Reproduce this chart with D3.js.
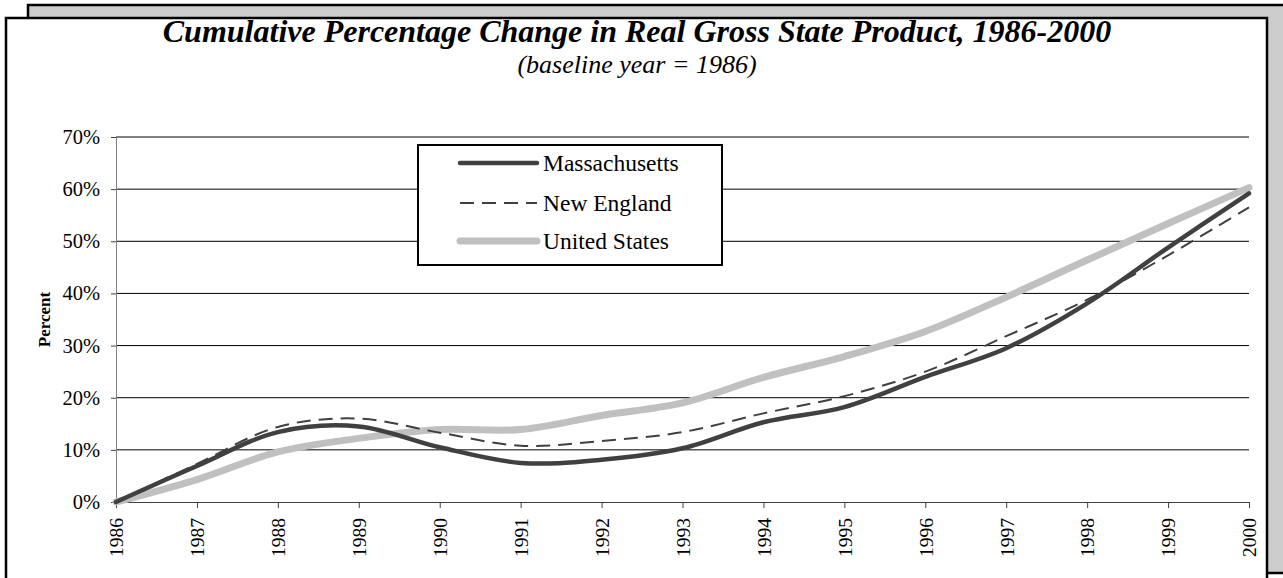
<!DOCTYPE html>
<html>
<head>
<meta charset="utf-8">
<script src="https://cdn.jsdelivr.net/npm/d3@7"></script>
<style>
  body { margin: 0; background: #fff; }
  svg { display: block; font-family: "Liberation Serif", "Times New Roman", serif; }
</style>
</head>
<body>
<svg width="1283" height="578"></svg>
<script>
var years = [1986, 1987, 1988, 1989, 1990, 1991, 1992, 1993, 1994, 1995, 1996, 1997, 1998, 1999, 2000];
var massachusetts = [0, 6.9, 13.4, 14.5, 10.5, 7.5, 8.1, 10.3, 15.3, 18.2, 24.0, 29.5, 38.1, 48.8, 59.2];
var newEngland = [0, 7.3, 14.4, 16.0, 13.3, 10.8, 11.7, 13.4, 17.0, 20.3, 25.0, 31.8, 38.8, 47.3, 56.5];
var unitedStates = [0, 4.3, 9.6, 12.2, 13.9, 13.9, 16.6, 19.0, 23.9, 27.9, 32.7, 39.3, 46.4, 53.4, 60.3];
var yTicks = [0, 10, 20, 30, 40, 50, 60, 70];
var seriesNames = ['Massachusetts', 'New England', 'United States'];

var svg = d3.select('svg');
var width = +svg.attr('width'),
    height = +svg.attr('height');
var margin = {top: 137, right: 34, bottom: 76, left: 116};

// frame: grey panel behind, white panel in front
svg.append('rect')
    .attr('x', 28).attr('y', 5)
    .attr('width', 1300).attr('height', 568)
    .attr('fill', '#cccccc')
    .attr('stroke', '#000').attr('stroke-width', 2.5);
svg.append('rect')
    .attr('x', 6).attr('y', 18)
    .attr('width', 1261).attr('height', 600)
    .attr('fill', '#fff')
    .attr('stroke', '#000').attr('stroke-width', 2.5);

var x = d3.scaleLinear()
    .domain([1986, 2000])
    .range([margin.left, width - margin.right]);
var y = d3.scaleLinear()
    .domain([0, 70])
    .range([height - margin.bottom, margin.top]);

// gridlines
svg.append('g')
    .selectAll('line')
    .data(yTicks.slice(1)).enter().append('line')
    .attr('x1', x(1986))
    .attr('x2', x(2000))
    .attr('y1', function(d) { return y(d); })
    .attr('y2', function(d) { return y(d); })
    .attr('stroke', '#000')
    .attr('stroke-width', 1);

var yAxis = d3.axisLeft(y)
    .tickValues(yTicks)
    .tickSize(5)
    .tickPadding(11)
    .tickFormat(function(d) { return d + '%'; });
var gy = svg.append('g')
    .attr('transform', 'translate(' + margin.left + ',0)')
    .call(yAxis);
gy.select('.domain').attr('stroke', '#808080');
gy.selectAll('.tick line').attr('stroke', '#404040');
gy.selectAll('text')
    .attr('font-family', '"Liberation Serif", serif')
    .attr('font-size', 20.5)
    .attr('fill', '#000');

var xAxis = d3.axisBottom(x)
    .tickValues(years)
    .tickSize(6)
    .tickSizeOuter(0)
    .tickFormat(d3.format('d'));
var gx = svg.append('g')
    .attr('transform', 'translate(0,' + y(0) + ')')
    .call(xAxis);
gx.select('.domain').attr('stroke', '#404040').attr('stroke-width', 1.2);
gx.selectAll('.tick line').attr('stroke', '#404040');
gx.selectAll('text')
    .attr('font-family', '"Liberation Serif", serif')
    .attr('font-size', 19.5)
    .attr('fill', '#000')
    .attr('transform', 'rotate(-90)')
    .attr('text-anchor', 'end')
    .attr('x', -16)
    .attr('y', 0)
    .attr('dy', '0.35em');

var line = function(vals) {
    return d3.line()
        .x(function(d, i) { return x(years[i]); })
        .y(function(d) { return y(d); })
        .curve(d3.curveCatmullRom.alpha(0.5))(vals);
};

var styles = [
    {data: massachusetts, stroke: '#404040', width: 4.5, dash: null},
    {data: newEngland, stroke: '#404040', width: 2, dash: '14,8'},
    {data: unitedStates, stroke: '#c0c0c0', width: 7, dash: null}
];

// draw US first so the state lines sit on top
[2, 0, 1].forEach(function(k) {
    var s = styles[k];
    svg.append('path')
        .attr('d', line(s.data))
        .attr('fill', 'none')
        .attr('stroke', s.stroke)
        .attr('stroke-width', s.width)
        .attr('stroke-dasharray', s.dash)
        .attr('stroke-linejoin', 'round')
        .attr('stroke-linecap', s.dash ? 'butt' : 'round');
});

// titles
svg.append('text')
    .attr('x', 637).attr('y', 42)
    .attr('text-anchor', 'middle')
    .attr('font-size', 32)
    .attr('font-weight', 'bold')
    .attr('font-style', 'italic')
    .text('Cumulative Percentage Change in Real Gross State Product, 1986-2000');
svg.append('text')
    .attr('x', 637).attr('y', 73)
    .attr('text-anchor', 'middle')
    .attr('font-size', 26)
    .attr('font-style', 'italic')
    .text('(baseline year = 1986)');

svg.append('text')
    .attr('transform', 'translate(50,' + y(35) + ') rotate(-90)')
    .attr('text-anchor', 'middle')
    .attr('font-size', 17)
    .attr('font-weight', 'bold')
    .text('Percent');

// legend
var legend = svg.append('g').attr('transform', 'translate(418,145)');
legend.append('rect')
    .attr('width', 304).attr('height', 120)
    .attr('fill', '#fff')
    .attr('stroke', '#000').attr('stroke-width', 2);
var rowY = [18, 58, 96];
seriesNames.forEach(function(name, i) {
    var s = styles[i];
    legend.append('line')
        .attr('x1', 42).attr('x2', 119)
        .attr('y1', rowY[i]).attr('y2', rowY[i])
        .attr('stroke', s.stroke)
        .attr('stroke-width', s.width)
        .attr('stroke-dasharray', s.dash)
        .attr('stroke-linecap', s.dash ? 'butt' : 'round');
    legend.append('text')
        .attr('x', 125).attr('y', rowY[i])
        .attr('dy', '0.35em')
        .attr('font-size', 23.5)
        .text(name);
});
</script>
</body>
</html>
